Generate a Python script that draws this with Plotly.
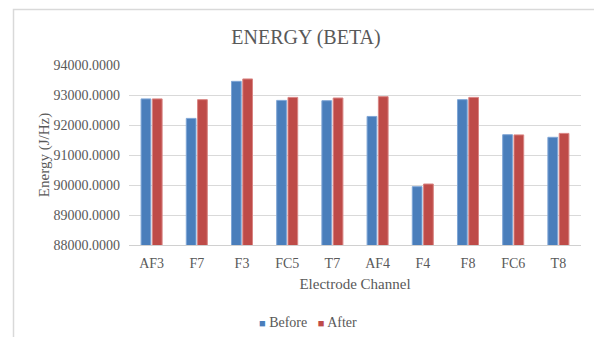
import plotly.graph_objects as go

channels = ["AF3", "F7", "F3", "FC5", "T7", "AF4", "F4", "F8", "FC6", "T8"]
before = [92870, 92220, 93455, 92820, 92810, 92285, 89945, 92845, 91677, 91590]
after = [92870, 92845, 93535, 92920, 92900, 92945, 90033, 92920, 91670, 91720]
y_ticks = [88000, 89000, 90000, 91000, 92000, 93000, 94000]

FONT = "Liberation Serif, Times New Roman, serif"
GREY = "#595959"
BLUE = "#4a7ebb"
RED = "#be4b48"

fig = go.Figure()
fig.add_trace(go.Bar(
    name="Before", x=channels, y=before,
    marker=dict(color=BLUE, line=dict(color="#7fa6d6", width=1)),
))
fig.add_trace(go.Bar(
    name="After", x=channels, y=after,
    marker=dict(color=RED, line=dict(color="#d98583", width=1)),
))

L, R, T, B = 129, 13, 65, 92
W, H = 594, 337
pw, ph = W - L - R, H - T - B

# outer chart frame
fig.add_shape(
    type="rect", xref="paper", yref="paper",
    x0=(13.5 - L) / pw, x1=(W + 5 - L) / pw,
    y0=(H - B - (H + 5)) / ph, y1=(H - B - 9.5) / ph,
    line=dict(color="#d9d9d9", width=1.5), fillcolor="rgba(0,0,0,0)",
    layer="below",
)

# compact legend row with square keys
fig.add_annotation(
    xref="paper", yref="paper",
    x=(308 - L) / pw, y=(H - B - 322) / ph,
    xanchor="center", yanchor="middle", showarrow=False,
    text=(f"<span style='color:{BLUE};font-size:11px'>■</span> Before"
          f"   <span style='color:{RED};font-size:11px'>■</span> After"),
    font=dict(family=FONT, size=14, color=GREY),
)

fig.update_layout(
    width=W, height=H,
    margin=dict(l=L, r=R, t=T, b=B, autoexpand=False),
    paper_bgcolor="white", plot_bgcolor="white",
    barmode="group", bargap=0.5, bargroupgap=0.14,
    font=dict(family=FONT, color=GREY, size=14),
    title=dict(
        text="ENERGY (BETA)", x=306 / W, xanchor="center",
        y=1 - 37 / H, yanchor="middle",
        font=dict(family=FONT, size=20, color=GREY),
    ),
    showlegend=False,
    xaxis=dict(
        automargin=False,
        showgrid=False, showline=True, linecolor="#d0d0d0", linewidth=1,
        ticks="", ticklabelstandoff=5,
        tickfont=dict(family=FONT, size=14, color=GREY),
        title=dict(text="Electrode Channel", standoff=8,
                   font=dict(family=FONT, size=15, color=GREY)),
    ),
    yaxis=dict(
        automargin=False,
        range=[88000, 94000], tickvals=y_ticks, tickformat=".4f",
        showgrid=True, gridcolor="#d9d9d9", gridwidth=1,
        zeroline=False, showline=False, ticks="", ticklabelstandoff=8,
        tickfont=dict(family=FONT, size=14, color=GREY),
        title=dict(text="Energy (J/Hz)", standoff=0,
                   font=dict(family=FONT, size=15, color=GREY)),
    ),
)

fig.write_html("out.html")
